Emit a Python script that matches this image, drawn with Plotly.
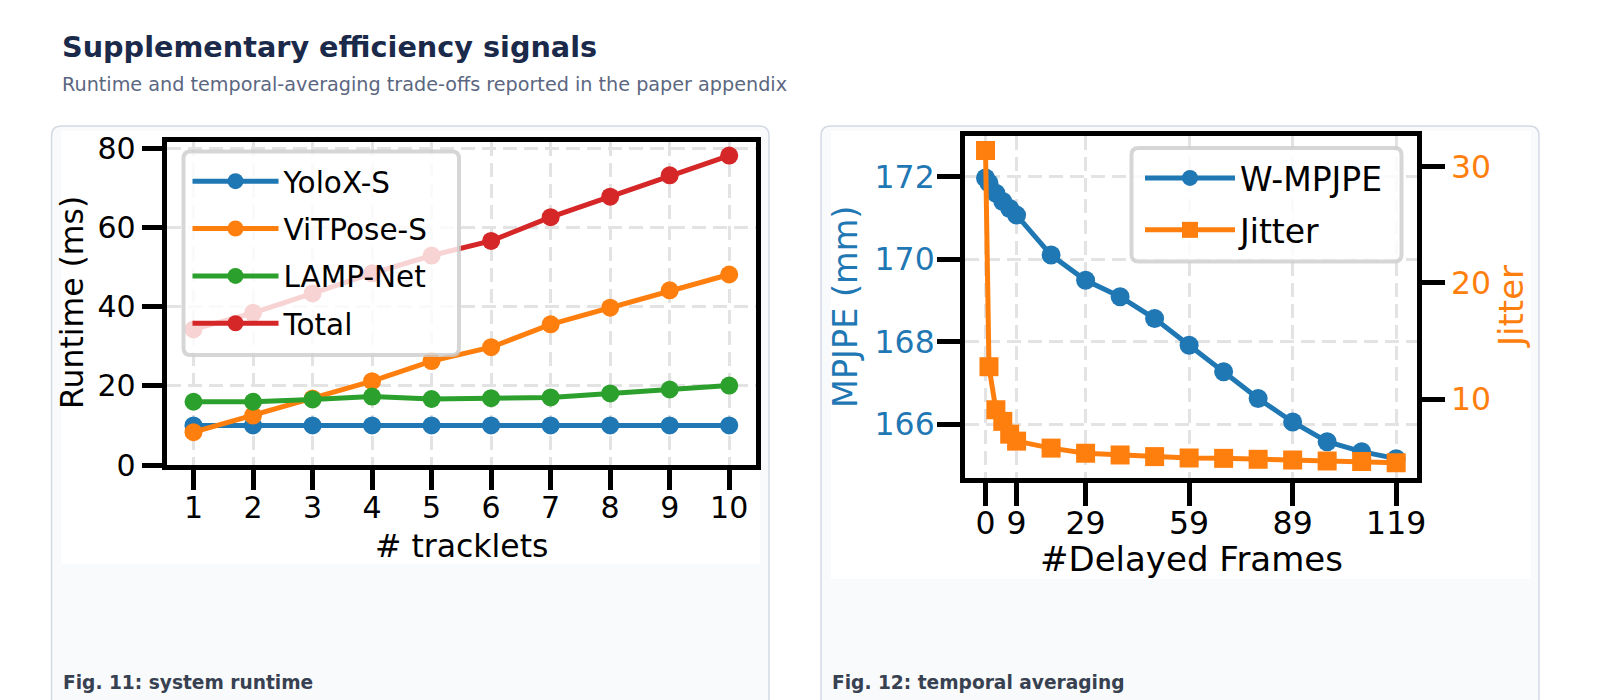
import plotly.graph_objects as go

W, H = 1600, 700

# ---------------- data ----------------
tracklets = [1, 2, 3, 4, 5, 6, 7, 8, 9, 10]
yolox = [10.0, 10.0, 10.0, 10.0, 10.0, 10.0, 10.0, 10.0, 10.0, 10.0]
vitpose = [8.3, 12.5, 16.8, 21.2, 26.3, 29.8, 35.6, 39.8, 44.2, 48.2]
lampnet = [16.0, 16.0, 16.6, 17.3, 16.7, 16.9, 17.1, 18.1, 19.1, 20.1]
total = [34.3, 38.5, 43.4, 48.5, 53.0, 56.7, 62.7, 67.9, 73.3, 78.3]
runtime_names = ["YoloX-S", "ViTPose-S", "LAMP-Net", "Total"]

delayed_frames = [0, 1, 3, 5, 7, 9, 19, 29, 39, 49, 59, 69, 79, 89, 99, 109, 119]
w_mpjpe = [171.97, 171.85, 171.6, 171.4, 171.23, 171.07, 170.1, 169.49, 169.09,
           168.56, 167.91, 167.27, 166.62, 166.05, 165.57, 165.33, 165.16]
jitter = [31.4, 12.8, 9.1, 8.1, 7.0, 6.4, 5.8, 5.36, 5.21, 5.07, 4.95, 4.92,
          4.84, 4.78, 4.7, 4.64, 4.55]
frame_ticks = [0, 9, 29, 59, 89, 119]
mpjpe_ticks = [166, 168, 170, 172]
jitter_ticks = [10, 20, 30]
runtime_ticks = [0, 20, 40, 60, 80]

TAB = ["#1f77b4", "#ff7f0e", "#2ca02c", "#d62728"]
FONT = "DejaVu Sans"


def px(x):
    return x / W


def py(y):
    return 1 - y / H


def rounded_rect(x0, y0, x1, y1, r):
    X0, X1 = px(x0), px(x1)
    Y0, Y1 = py(y0), py(y1)
    rx, ry = r / W, r / H
    return (f"M{X0+rx},{Y0} L{X1-rx},{Y0} Q{X1},{Y0} {X1},{Y0-ry} "
            f"L{X1},{Y1+ry} Q{X1},{Y1} {X1-rx},{Y1} L{X0+rx},{Y1} "
            f"Q{X0},{Y1} {X0},{Y1+ry} L{X0},{Y0-ry} Q{X0},{Y0} {X0+rx},{Y0} Z")


fig = go.Figure()

# ---------------- left: runtime ----------------
for name, vals, col in zip(runtime_names, [yolox, vitpose, lampnet, total], TAB):
    fig.add_trace(go.Scatter(
        x=tracklets, y=vals, name=name, mode="lines+markers",
        line=dict(color=col, width=5), marker=dict(size=18, color=col),
        xaxis="x", yaxis="y", legend="legend", legendgroup=name))

# ---------------- right: temporal averaging ----------------
fig.add_trace(go.Scatter(
    x=delayed_frames, y=w_mpjpe, name="W-MPJPE", mode="lines+markers",
    line=dict(color=TAB[0], width=5), marker=dict(size=19, color=TAB[0], symbol="circle"),
    xaxis="x2", yaxis="y2", legend="legend2", legendgroup="w"))
fig.add_trace(go.Scatter(
    x=delayed_frames, y=jitter, name="Jitter", mode="lines+markers",
    line=dict(color=TAB[1], width=5), marker=dict(size=19, color=TAB[1], symbol="square"),
    xaxis="x2", yaxis="y3", legend="legend2", legendgroup="j"))

grid = dict(showgrid=True, gridcolor="#e3e3e3", gridwidth=3, griddash="14px,7px")
ax_common = dict(showline=True, linewidth=5, linecolor="black", ticks="outside",
                 tickwidth=5, tickcolor="black", zeroline=False, automargin=False)

fig.update_layout(
    width=W, height=H, autosize=False,
    margin=dict(l=0, r=0, t=0, b=0, pad=0),
    paper_bgcolor="white", plot_bgcolor="white",
    font=dict(family=FONT, color="black"),
    showlegend=True,
    xaxis=dict(domain=[px(166.7), px(756)], anchor="y", range=[0.55, 10.45],
               tickvals=tracklets, ticklen=20, mirror=True, ticklabelstandoff=-8,
               tickfont=dict(size=30, family=FONT), **grid, **ax_common),
    yaxis=dict(domain=[py(465), py(141.7)], anchor="x", range=[0, 81.8],
               tickvals=runtime_ticks, ticklen=20, mirror=True,
               tickfont=dict(size=30, family=FONT), **grid, **ax_common),
    xaxis2=dict(domain=[px(965), px(1416.7)], anchor="y2", range=[-5.95, 124.95],
                tickvals=frame_ticks, ticklen=23, mirror=True, ticklabelstandoff=-10,
                tickfont=dict(size=31.5, family=FONT), **grid, **ax_common),
    yaxis2=dict(domain=[py(478), py(136)], anchor="x2", range=[164.69, 172.99],
                tickvals=mpjpe_ticks, ticklen=23, mirror=False, ticklabelstandoff=-4,
                tickfont=dict(size=31.5, family=FONT, color=TAB[0]), **grid, **ax_common),
    yaxis3=dict(overlaying="y2", side="right", anchor="x2", range=[3.23, 32.64],
                tickvals=jitter_ticks, ticklen=23, showgrid=False,
                tickfont=dict(size=31.5, family=FONT, color=TAB[1]), **ax_common),
    legend=dict(x=px(187.5), y=py(155.5), xanchor="left", yanchor="top",
                bgcolor="rgba(0,0,0,0)", borderwidth=0,
                font=dict(size=29.5, family=FONT), itemwidth=86, tracegroupgap=6),
    legend2=dict(x=px(1140), y=py(150), xanchor="left", yanchor="top",
                 bgcolor="rgba(0,0,0,0)", borderwidth=0,
                 font=dict(size=33, family=FONT), itemwidth=90, tracegroupgap=6),
)

# ---------------- cards / backgrounds ----------------
shapes = []
for (x0, x1) in [(51.5, 769), (821, 1539)]:
    shapes.append(dict(type="path", path=rounded_rect(x0, 126, x1, 740, 10),
                       xref="paper", yref="paper", fillcolor="#f9fafb",
                       line=dict(color="#d3d9e3", width=1.5), layer="below"))
shapes.append(dict(type="rect", xref="paper", yref="paper", x0=px(61), x1=px(760),
                   y0=py(564), y1=py(131), fillcolor="white", line=dict(width=0), layer="below"))
shapes.append(dict(type="rect", xref="paper", yref="paper", x0=px(831), x1=px(1531),
                   y0=py(579), y1=py(131), fillcolor="white", line=dict(width=0), layer="below"))
# legend frames (semi-transparent, rounded, drawn above the lines)
for (x0, y0, x1, y1) in [(183.5, 151.5, 459, 355), (1131.5, 148, 1401.5, 261.5)]:
    shapes.append(dict(type="path", path=rounded_rect(x0, y0, x1, y1, 7),
                       xref="paper", yref="paper", fillcolor="rgba(255,255,255,0.8)",
                       line=dict(color="rgba(204,204,204,0.8)", width=4), layer="above"))
fig.update_layout(shapes=shapes)

# ---------------- text ----------------
def note(text, x, y, size, color, xanchor="center", angle=0, family=FONT):
    return dict(text=text, x=px(x), y=py(y), xref="paper", yref="paper",
                xanchor=xanchor, yanchor="middle", showarrow=False, textangle=angle,
                font=dict(family=family, size=size, color=color))


ann = [
    note("<b>Supplementary efficiency signals</b>", 60, 47, 28.7, "#1b2a4a", "left"),
    note("Runtime and temporal-averaging trade-offs reported in the paper appendix",
         60, 84, 19.2, "#5b6781", "left"),
    note("<b>Fig. 11: system runtime</b>", 61, 682, 18.6, "#374151", "left"),
    note("<b>Fig. 12: temporal averaging</b>", 830, 682, 18.6, "#374151", "left"),
    # axis titles
    note("Runtime (ms)", 72, 303, 31.5, "black", angle=-90),
    note("# tracklets", 461, 546, 31.5, "black"),
    note("MPJPE (mm)", 845, 307, 33.5, TAB[0], angle=-90),
    note("Jitter", 1511, 307, 34, TAB[1], angle=-90),
    note("#Delayed Frames", 1191, 559, 34, "black"),
]
fig.update_layout(annotations=ann)

fig.write_html("out.html")
